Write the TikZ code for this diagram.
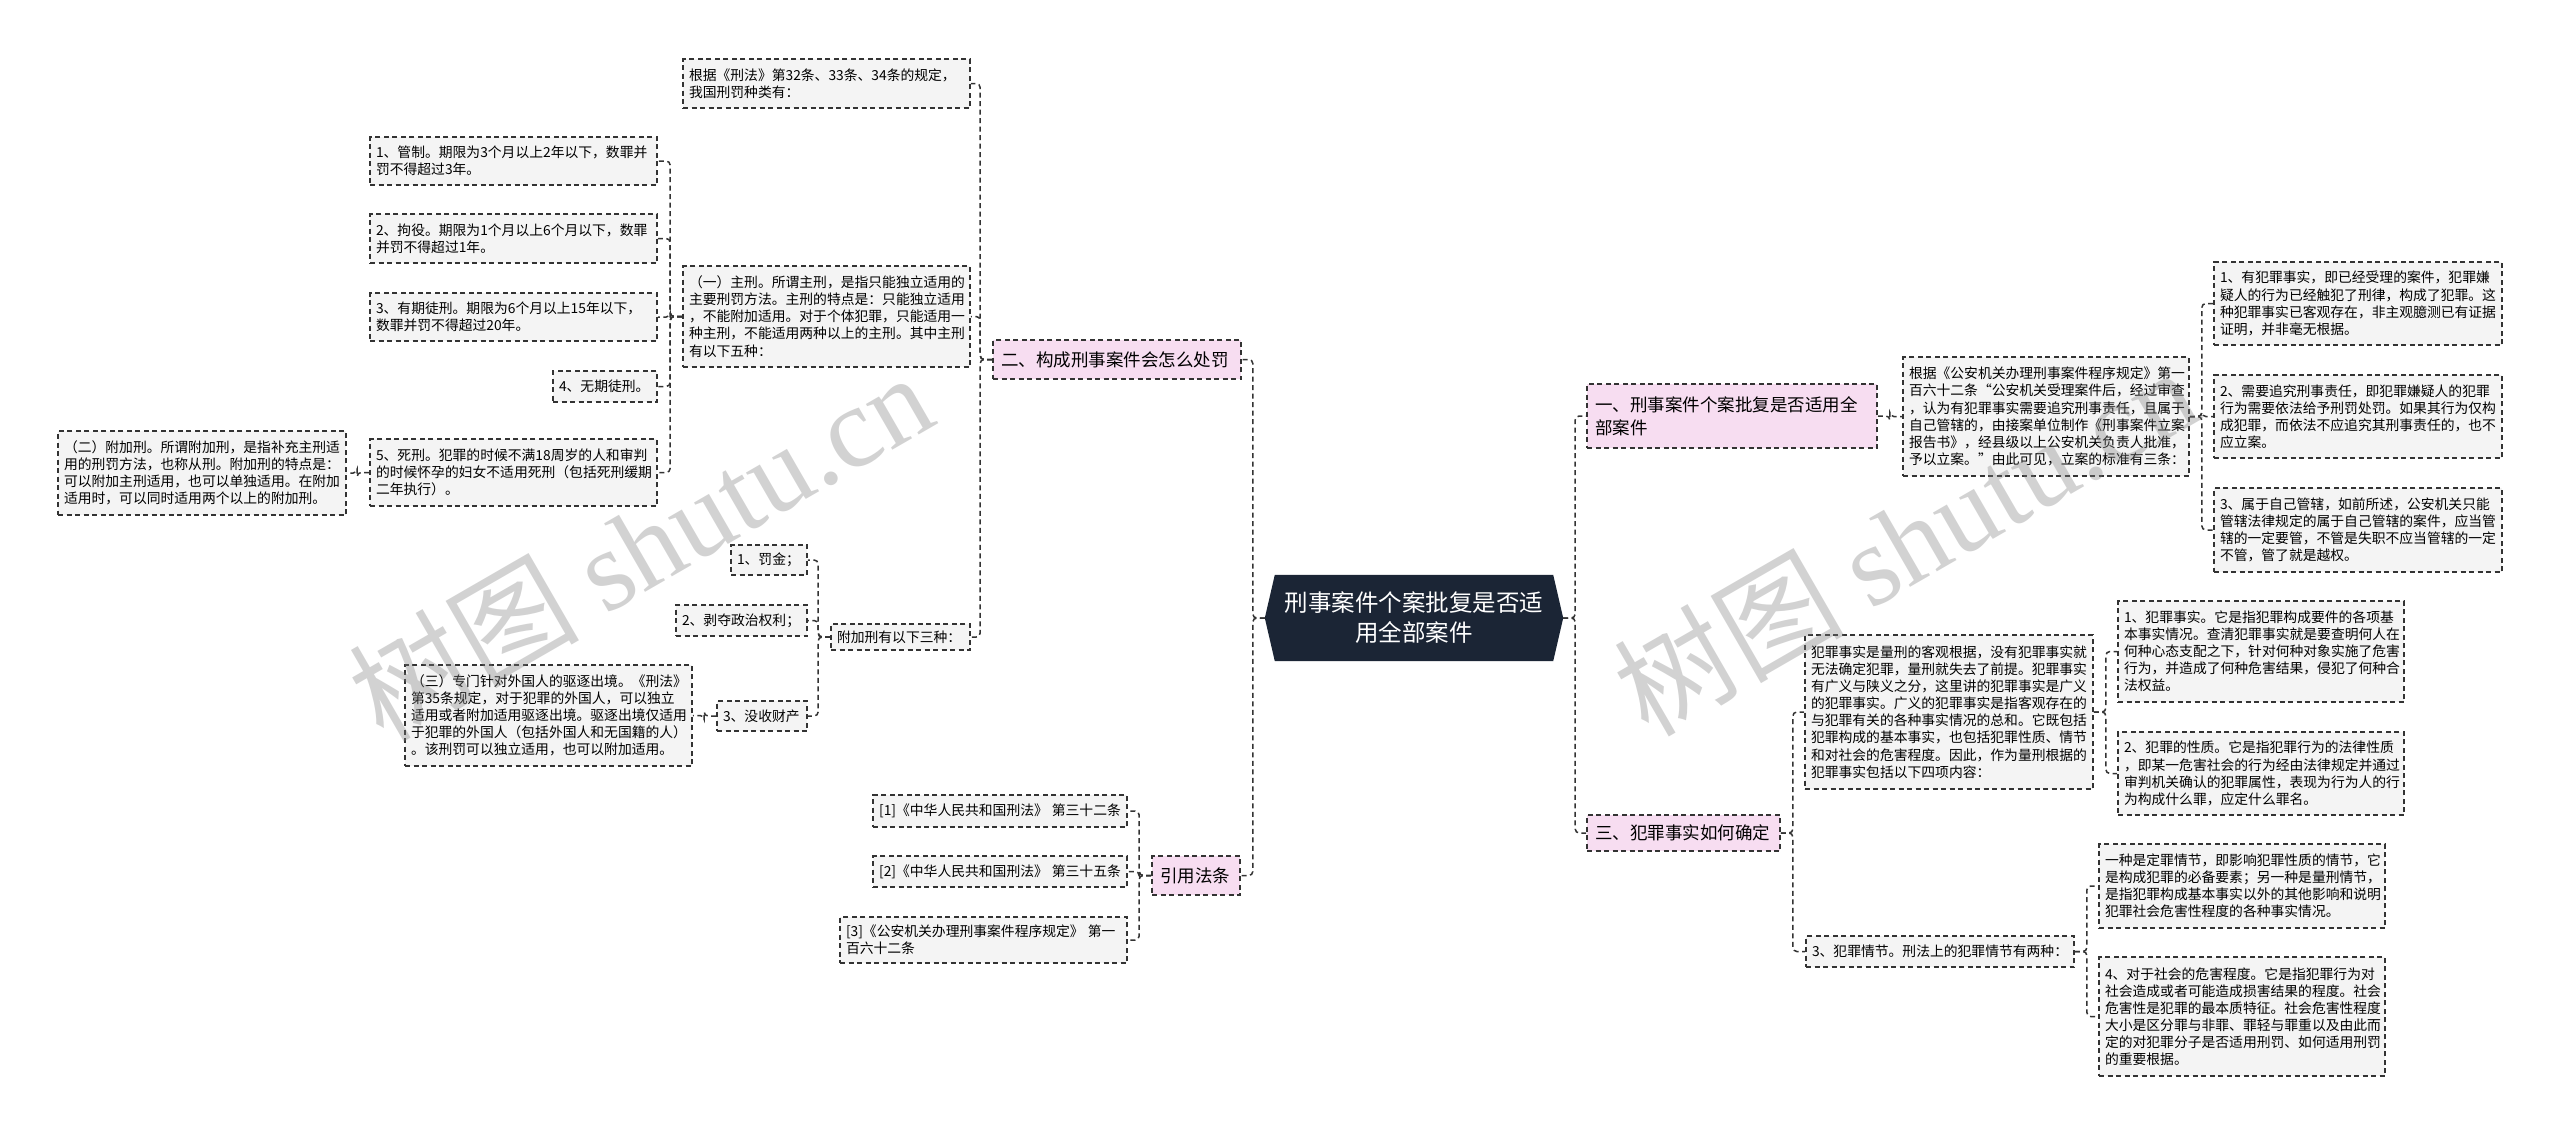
\documentclass[tikz,border=0pt]{standalone}
\usepackage{fontspec}
\setmainfont{Noto Sans CJK SC}
\newfontfamily\wmlatin{Liberation Serif}
\usetikzlibrary{backgrounds}
\definecolor{navy}{HTML}{1B2535}
\definecolor{pinkfill}{HTML}{F7DDF1}
\definecolor{leaffill}{HTML}{F4F4F4}
\definecolor{linecol}{HTML}{333333}
\tikzset{
  leaf/.style={draw=linecol, fill=leaffill, dash pattern=on 5pt off 3.5pt, line width=1.7pt,
    inner xsep=6pt, inner ysep=0pt, align=left, font=\fontsize{13.8}{17.1}\selectfont, anchor=center},
  branch/.style={draw=linecol, fill=pinkfill, dash pattern=on 5pt off 3.5pt, line width=1.7pt,
    inner xsep=8pt, inner ysep=0pt, align=left, font=\fontsize{17.5}{23}\selectfont, anchor=center},
  conn/.style={draw=linecol, line width=1.5pt, dash pattern=on 5pt off 3.5pt, rounded corners=4pt},
  wmark/.style={text=gray, opacity=0.35, rotate=30, font=\fontsize{115}{115}\selectfont},
}
\begin{document}
\begin{tikzpicture}[x=1pt,y=-1pt]
\useasboundingbox (0,0) rectangle (2560,1135);
\begin{scope}[on background layer]
\fill[white] (0,0) rectangle (2560,1135);
\end{scope}

% center
\node[font=\fontsize{23.5}{30}\selectfont, text=white, align=center, minimum width=298pt, minimum height=86pt, inner sep=0pt] (C) at (1414,618) {刑事案件个案批复是否适\\用全部案件};
\begin{scope}[on background layer]
\fill[navy] (C.west) -- ([xshift=10pt]C.north west) -- ([xshift=-10pt]C.north east) -- (C.east) -- ([xshift=-10pt]C.south east) -- ([xshift=10pt]C.south west) -- cycle;
\end{scope}

% main branches
\node[branch, text width=232pt, minimum height=39pt] (P1) at (1117,359.5) {二、构成刑事案件会怎么处罚};
\node[branch, text width=72pt, minimum height=39pt] (P2) at (1196,875.5) {引用法条};
\node[branch, text width=274pt, minimum height=64pt] (P3) at (1732,416) {一、刑事案件个案批复是否适用全\\部案件};
\node[branch, text width=177pt, minimum height=36pt] (P4) at (1683.5,833) {三、犯罪事实如何确定};

% branch 二
\node[leaf, text width=275pt, minimum height=49pt] (A0) at (826.5,83.5) {根据《刑法》第32条、33条、34条的规定，\\我国刑罚种类有：};
\node[leaf, text width=275pt, minimum height=101pt] (A1) at (826.5,316.5) {（一）主刑。所谓主刑，是指只能独立适用的\\主要刑罚方法。主刑的特点是：只能独立适用\\，不能附加适用。对于个体犯罪，只能适用一\\种主刑，不能适用两种以上的主刑。其中主刑\\有以下五种：};
\node[leaf, text width=127pt, minimum height=26pt] (A2) at (900.5,637) {附加刑有以下三种：};

\node[leaf, text width=275pt, minimum height=48pt] (B1) at (513.5,161) {1、管制。期限为3个月以上2年以下，数罪并\\罚不得超过3年。};
\node[leaf, text width=275pt, minimum height=49pt] (B2) at (513.5,238.5) {2、拘役。期限为1个月以上6个月以下，数罪\\并罚不得超过1年。};
\node[leaf, text width=275pt, minimum height=48pt] (B3) at (513.5,317) {3、有期徒刑。期限为6个月以上15年以下，\\数罪并罚不得超过20年。};
\node[leaf, text width=92pt, minimum height=31pt] (B4) at (605,386.5) {4、无期徒刑。};
\node[leaf, text width=275pt, minimum height=67pt] (B5) at (513.5,472.5) {5、死刑。犯罪的时候不满18周岁的人和审判\\的时候怀孕的妇女不适用死刑（包括死刑缓期\\二年执行）。};
\node[leaf, text width=276pt, minimum height=84pt] (C1) at (202,473) {（二）附加刑。所谓附加刑，是指补充主刑适\\用的刑罚方法，也称从刑。附加刑的特点是：\\可以附加主刑适用，也可以单独适用。在附加\\适用时，可以同时适用两个以上的附加刑。};

\node[leaf, text width=64pt, minimum height=30pt] (D1) at (769,560) {1、罚金；};
\node[leaf, text width=119pt, minimum height=31pt] (D2) at (741.5,620.5) {2、剥夺政治权利；};
\node[leaf, text width=78pt, minimum height=30pt] (D3) at (762,716) {3、没收财产};
\node[leaf, text width=275pt, minimum height=101pt] (E1) at (548.5,715.5) {（三）专门针对外国人的驱逐出境。《刑法》\\第35条规定，对于犯罪的外国人，可以独立\\适用或者附加适用驱逐出境。驱逐出境仅适用\\于犯罪的外国人（包括外国人和无国籍的人）\\。该刑罚可以独立适用，也可以附加适用。};

% branch 引用法条
\node[leaf, minimum width=254pt, minimum height=32pt] (F1) at (1000,811) {[1]《中华人民共和国刑法》\hspace{4pt}第三十二条};
\node[leaf, minimum width=254pt, minimum height=31pt] (F2) at (1000,871.5) {[2]《中华人民共和国刑法》\hspace{4pt}第三十五条};
\node[leaf, text width=275pt, minimum height=46pt] (F3) at (983.5,940) {[3]《公安机关办理刑事案件程序规定》\hspace{4pt}第一\\百六十二条};

% branch 一
\node[leaf, text width=274pt, minimum height=119pt] (G1) at (2046,416.5) {根据《公安机关办理刑事案件程序规定》第一\\百六十二条“公安机关受理案件后，经过审查\\，认为有犯罪事实需要追究刑事责任，且属于\\自己管辖的，由接案单位制作《刑事案件立案\\报告书》，经县级以上公安机关负责人批准，\\予以立案。”由此可见，立案的标准有三条：};
\node[leaf, text width=276pt, minimum height=83pt] (H1) at (2358,303.5) {1、有犯罪事实，即已经受理的案件，犯罪嫌\\疑人的行为已经触犯了刑律，构成了犯罪。这\\种犯罪事实已客观存在，非主观臆测已有证据\\证明，并非毫无根据。};
\node[leaf, text width=276pt, minimum height=83pt] (H2) at (2358,416.5) {2、需要追究刑事责任，即犯罪嫌疑人的犯罪\\行为需要依法给予刑罚处罚。如果其行为仅构\\成犯罪，而依法不应追究其刑事责任的，也不\\应立案。};
\node[leaf, text width=276pt, minimum height=84pt] (H3) at (2358,530) {3、属于自己管辖，如前所述，公安机关只能\\管辖法律规定的属于自己管辖的案件，应当管\\辖的一定要管，不管是失职不应当管辖的一定\\不管，管了就是越权。};

% branch 三
\node[leaf, text width=276pt, minimum height=154pt] (I1) at (1949,712) {犯罪事实是量刑的客观根据，没有犯罪事实就\\无法确定犯罪，量刑就失去了前提。犯罪事实\\有广义与陕义之分，这里讲的犯罪事实是广义\\的犯罪事实。广义的犯罪事实是指客观存在的\\与犯罪有关的各种事实情况的总和。它既包括\\犯罪构成的基本事实，也包括犯罪性质、情节\\和对社会的危害程度。因此，作为量刑根据的\\犯罪事实包括以下四项内容：};
\node[leaf, text width=256pt, minimum height=31pt] (I2) at (1940,951.5) {3、犯罪情节。刑法上的犯罪情节有两种：};
\node[leaf, text width=274pt, minimum height=101pt] (J1) at (2261,651.5) {1、犯罪事实。它是指犯罪构成要件的各项基\\本事实情况。查清犯罪事实就是要查明何人在\\何种心态支配之下，针对何种对象实施了危害\\行为，并造成了何种危害结果，侵犯了何种合\\法权益。};
\node[leaf, text width=274pt, minimum height=83pt] (J2) at (2261,773.5) {2、犯罪的性质。它是指犯罪行为的法律性质\\，即某一危害社会的行为经由法律规定并通过\\审判机关确认的犯罪属性，表现为行为人的行\\为构成什么罪，应定什么罪名。};
\node[leaf, text width=274pt, minimum height=84pt] (K1) at (2242,886) {一种是定罪情节，即影响犯罪性质的情节，它\\是构成犯罪的必备要素；另一种是量刑情节，\\是指犯罪构成基本事实以外的其他影响和说明\\犯罪社会危害性程度的各种事实情况。};
\node[leaf, text width=274pt, minimum height=119pt] (K2) at (2242,1016.5) {4、对于社会的危害程度。它是指犯罪行为对\\社会造成或者可能造成损害结果的程度。社会\\危害性是犯罪的最本质特征。社会危害性程度\\大小是区分罪与非罪、罪轻与罪重以及由此而\\定的对犯罪分子是否适用刑罚、如何适用刑罚\\的重要根据。};

% connectors
\foreach \c in {P1,P2} \draw[conn] (C.west) -- ++(-12,0) |- (\c.east);
\foreach \c in {P3,P4} \draw[conn] (C.east) -- ++(12,0) |- (\c.west);
\foreach \c in {A0,A1,A2} \draw[conn] (P1.west) -- ++(-12,0) |- (\c.east);
\foreach \c in {B1,B2,B3,B4,B5} \draw[conn] (A1.west) -- ++(-12,0) |- (\c.east);
\draw[conn] (B5.west) -- ++(-12,0) |- (C1.east);
\foreach \c in {D1,D2,D3} \draw[conn] (A2.west) -- ++(-12,0) |- (\c.east);
\draw[conn] (D3.west) -- ++(-12,0) |- (E1.east);
\foreach \c in {F1,F2,F3} \draw[conn] (P2.west) -- ++(-12,0) |- (\c.east);
\draw[conn] (P3.east) -- ++(12,0) |- (G1.west);
\foreach \c in {H1,H2,H3} \draw[conn] (G1.east) -- ++(12,0) |- (\c.west);
\foreach \c in {I1,I2} \draw[conn] (P4.east) -- ++(12,0) |- (\c.west);
\foreach \c in {J1,J2} \draw[conn] (I1.east) -- ++(12,0) |- (\c.west);
\foreach \c in {K1,K2} \draw[conn] (I2.east) -- ++(12,0) |- (\c.west);

% watermarks
\node[wmark] (W1) at (640,545) {树图 {\wmlatin shutu.cn}};
\node[wmark] (W2) at (1905,540) {树图 {\wmlatin shutu.cn}};
\end{tikzpicture}
\end{document}
